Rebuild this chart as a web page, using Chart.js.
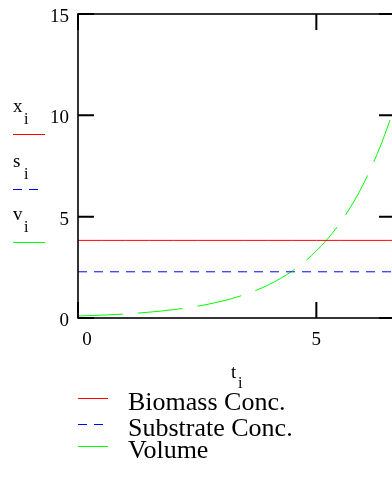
<!DOCTYPE html>
<html>
<head>
<meta charset="utf-8">
<script src="https://cdn.jsdelivr.net/npm/chart.js@4.4.0/dist/chart.umd.min.js"></script>
<style>
  html, body { margin: 0; padding: 0; background: #fff; overflow: hidden; }
  #wrap { position: relative; width: 410px; height: 481px; }
</style>
</head>
<body>
<div id="wrap"><canvas id="plot"></canvas></div>
<script>
// data
const tValues = [0, 0.5, 1, 1.5, 2, 2.5, 3, 3.5, 4, 4.5, 5, 5.5, 6, 6.5, 6.65];
const biomass = [3.83, 3.83, 3.83, 3.83, 3.83, 3.83, 3.83, 3.83, 3.83, 3.83, 3.83, 3.83, 3.83, 3.83, 3.83];
const substrate = [2.28, 2.28, 2.28, 2.28, 2.28, 2.28, 2.28, 2.28, 2.28, 2.28, 2.28, 2.28, 2.28, 2.28, 2.28];
const volume = [0.10, 0.14, 0.20, 0.29, 0.41, 0.58, 0.82, 1.16, 1.64, 2.33, 3.31, 4.70, 6.67, 9.46, 10.6];

const xTicks = [0, 5];
const yTicks = [0, 5, 10, 15];
const seriesNames = ['Biomass Conc.', 'Substrate Conc.', 'Volume'];
const axisNames = ['x', 's', 'v'];
const colors = ['#ff0000', '#0000ff', '#00ff00'];
const dashes = [[], [9, 7], [45, 15]];

const SERIF = '"Liberation Serif", "Times New Roman", serif';

function toPoints(ys) {
    return ys.map((y, i) => ({ x: tValues[i], y: y }));
}

// frame, ticks, labels and legends (Mathcad look)
const decorPlugin = {
    id: 'decor',
    afterDraw(chart) {
        const ctx = chart.ctx;
        const a = chart.chartArea;
        const xs = chart.scales.x, ys = chart.scales.y;
        const tickLen = 16;
        ctx.save();

        // frame
        ctx.strokeStyle = '#000';
        ctx.lineWidth = 1.6;
        ctx.setLineDash([]);
        ctx.strokeRect(a.left, a.top, a.right - a.left, a.bottom - a.top);

        // inward ticks on all sides
        ctx.lineWidth = 2;
        ctx.beginPath();
        yTicks.forEach(v => {
            const py = ys.getPixelForValue(v);
            ctx.moveTo(a.left, py); ctx.lineTo(a.left + tickLen, py);
            ctx.moveTo(a.right, py); ctx.lineTo(a.right - tickLen, py);
        });
        xTicks.forEach(v => {
            const px = xs.getPixelForValue(v);
            ctx.moveTo(px, a.bottom); ctx.lineTo(px, a.bottom - tickLen);
            ctx.moveTo(px, a.top); ctx.lineTo(px, a.top + tickLen);
        });
        ctx.stroke();

        // tick labels
        ctx.fillStyle = '#000';
        ctx.font = '19px ' + SERIF;
        ctx.textAlign = 'right';
        ctx.textBaseline = 'middle';
        yTicks.forEach(v => {
            ctx.fillText(String(v), a.left - 9, ys.getPixelForValue(v) + 3);
        });
        ctx.textAlign = 'center';
        xTicks.forEach(v => {
            let px = xs.getPixelForValue(v);
            if (v === xTicks[0]) px += 9;
            ctx.fillText(String(v), px, a.bottom + 22);
        });

        // x axis title t_i
        ctx.textBaseline = 'alphabetic';
        ctx.textAlign = 'left';
        ctx.font = '19px ' + SERIF;
        ctx.fillText('t', 231, 378);
        ctx.font = '16px ' + SERIF;
        ctx.fillText('i', 238, 388);

        // y axis titles with line samples
        const sampleY = [134, 189, 242];
        axisNames.forEach((n, i) => {
            const ly = sampleY[i];
            ctx.fillStyle = '#000';
            ctx.font = '19px ' + SERIF;
            ctx.fillText(n, 13, ly - 22);
            ctx.font = '16px ' + SERIF;
            ctx.fillText('i', 24, ly - 10);
            ctx.strokeStyle = colors[i];
            ctx.lineWidth = 1;
            ctx.setLineDash(i === 2 ? [] : dashes[i]);
            ctx.beginPath();
            ctx.moveTo(13, ly + 0.5); ctx.lineTo(45, ly + 0.5);
            ctx.stroke();
        });

        // bottom legend
        const legY = [398, 424, 446];
        seriesNames.forEach((n, i) => {
            const ly = legY[i];
            ctx.strokeStyle = colors[i];
            ctx.lineWidth = 1;
            ctx.setLineDash(i === 2 ? [] : dashes[i]);
            ctx.beginPath();
            ctx.moveTo(78, ly + 0.5); ctx.lineTo(108, ly + 0.5);
            ctx.stroke();
            ctx.fillStyle = '#000';
            ctx.font = '26px ' + SERIF;
            ctx.fillText(n, 128, ly + 12);
        });

        ctx.restore();
    }
};

const datasets = [biomass, substrate, volume].map((vals, i) => ({
    label: seriesNames[i],
    data: toPoints(vals),
    borderColor: colors[i],
    borderWidth: 1,
    borderDash: dashes[i],
    pointRadius: 0,
    fill: false,
    tension: 0,
    cubicInterpolationMode: i === 2 ? 'monotone' : 'default'
}));

new Chart(document.getElementById('plot'), {
    type: 'line',
    data: { datasets: datasets },
    options: {
        responsive: true,
        maintainAspectRatio: false,
        animation: false,
        layout: { padding: { left: 78, top: 14, right: 15, bottom: 163 } },
        plugins: {
            legend: { display: false },
            tooltip: { enabled: false }
        },
        scales: {
            x: { type: 'linear', min: 0, max: 6.65, display: false },
            y: { min: 0, max: 15, display: false }
        }
    },
    plugins: [decorPlugin]
});
</script>
</body>
</html>
